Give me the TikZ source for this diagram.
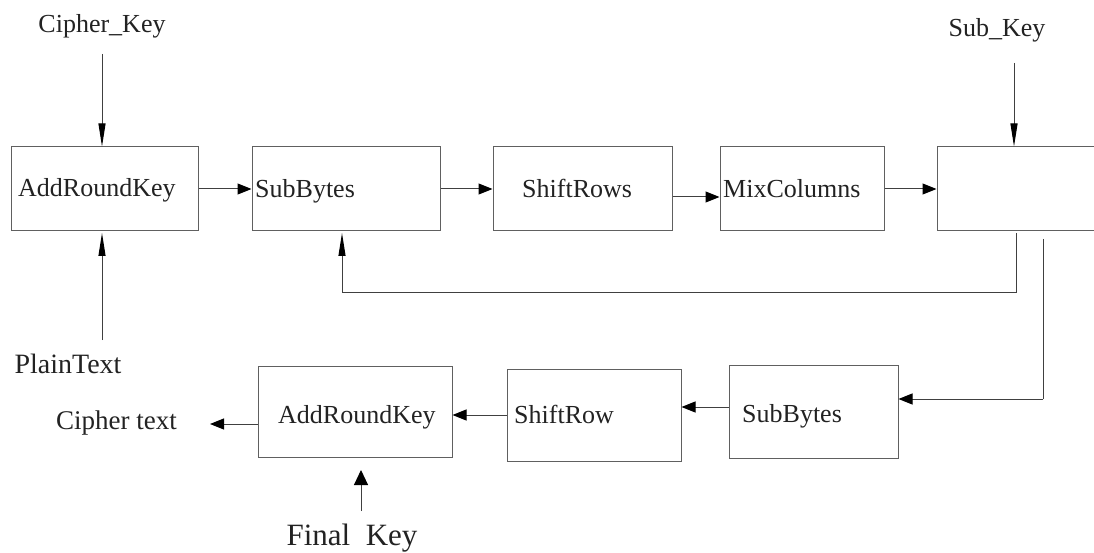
\documentclass[tikz,border=0pt]{standalone}
\usepackage{fontspec}
\setmainfont{Liberation Serif}
\usetikzlibrary{arrows.meta}
\definecolor{txt}{HTML}{222222}
\definecolor{boxline}{HTML}{606060}
\definecolor{conline}{HTML}{404040}
\tikzset{
  box/.style={draw=boxline, line width=1pt, inner sep=0pt, rectangle},
  lab/.style={inner sep=0pt, text=txt, font=\fontsize{26pt}{30pt}\selectfont},
  hArr/.style={draw=conline, line width=1pt, -{Triangle[length=14pt,width=11pt,black]}},
  vArr/.style={draw=conline, line width=1pt, -{Triangle[length=23pt,width=7pt,black]}},
  bigArr/.style={draw=conline, line width=1pt, -{Triangle[length=15pt,width=14pt,black]}},
  plain/.style={draw=conline, line width=1pt},
}
\begin{document}
\begin{tikzpicture}[x=1pt,y=-1pt]
\useasboundingbox (0,0) rectangle (1094,553);
\clip (0,0) rectangle (1094,553);
% top row boxes
\node[box, minimum width=187pt, minimum height=84pt] (b1) at (104.5,189) {};
\node[box, minimum width=188pt, minimum height=84pt] (b2) at (346,189) {};
\node[box, minimum width=179pt, minimum height=84pt] (b3) at (582.5,189) {};
\node[box, minimum width=164pt, minimum height=84pt] (b4) at (802,189) {};
\node[box, minimum width=180pt, minimum height=84pt] (b5) at (1027,189) {};
% bottom row boxes
\node[box, minimum width=169pt, minimum height=93pt] (r1) at (813.5,411.5) {};
\node[box, minimum width=174pt, minimum height=92pt] (r2) at (594,415) {};
\node[box, minimum width=194pt, minimum height=91pt] (r3) at (355,411.5) {};
% box texts
\node[lab, anchor=base west] (t1) at (18,197) {AddRoundKey};
\node[lab, anchor=base west] (t2) at (255,198) {SubBytes};
\node[lab, anchor=base west] (t3) at (522,198) {ShiftRows};
\node[lab, anchor=base west] (t4) at (723,198) {MixColumns};
\node[lab, anchor=base west] (t5) at (742,422) {SubBytes};
\node[lab, anchor=base west] (t6) at (514,423) {ShiftRow};
\node[lab, anchor=base west] (t7) at (278,423) {AddRoundKey};
% outside labels
\node[lab, anchor=base] (ck) at (102,33) {Cipher\_Key};
\node[lab, anchor=base] (sk) at (997,37) {Sub\_Key};
\node[lab, anchor=base, font=\fontsize{28pt}{32pt}\selectfont] (pt) at (68,373) {PlainText};
\node[lab, anchor=base, font=\fontsize{27pt}{31pt}\selectfont] (ct) at (116.5,429) {Cipher text};
\node[lab, anchor=base, font=\fontsize{31pt}{35pt}\selectfont] (fk) at (352,545) {Final\hspace{0.5em}Key};
% helper coordinates
\coordinate (ckTop) at (102,54);
\coordinate (ptBot) at (102,340);
\coordinate (skTop) at (1014,63);
\coordinate (fbA) at (1016,233);
\coordinate (fbB) at (1016,292);
\coordinate (fbC) at (342,292);
\coordinate (dnA) at (1043,239);
\coordinate (dnB) at (1043,399);
\coordinate (ctEnd) at (210,424);
\coordinate (fkBot) at (361,511);
% top row connectors
\draw[vArr] (ckTop) -- (b1.north -| ckTop);
\draw[vArr] (ptBot) -- (102,233);
\draw[hArr] (b1.east |- 0,189) -- (b2.west |- 0,189);
\draw[hArr] (b2.east |- 0,189) -- (b3.west |- 0,189);
\draw[hArr] (b3.east |- 0,197) -- (b4.west |- 0,197);
\draw[hArr] (b4.east |- 0,189) -- (b5.west |- 0,189);
\draw[vArr] (skTop) -- (b5.north -| skTop);
% feedback loop
\draw[plain] (fbA) -- (fbB) -- (fbC);
\draw[vArr] (fbC) -- (342,233);
% down to last round
\draw[plain] (dnA) -- (dnB);
\draw[hArr] (dnB) -- (r1.east |- dnB);
% bottom row connectors
\draw[hArr] (r1.west |- 0,407) -- (r2.east |- 0,407);
\draw[hArr] (r2.west |- 0,415) -- (r3.east |- 0,415);
\draw[hArr] (r3.west |- ctEnd) -- (ctEnd);
\draw[bigArr] (fkBot) -- (361,470);
\end{tikzpicture}
\end{document}
